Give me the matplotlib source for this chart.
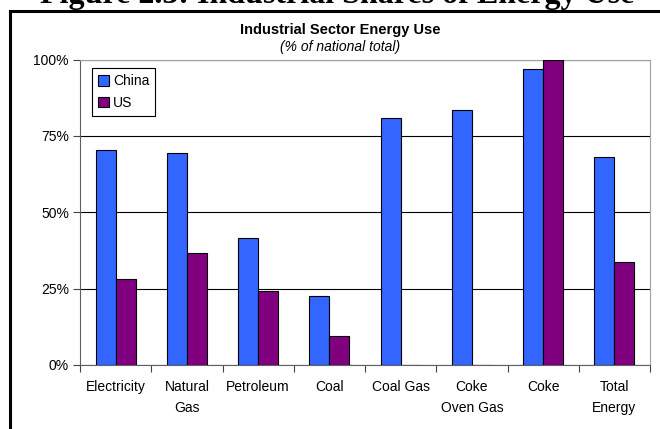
import matplotlib
matplotlib.use("Agg")
import matplotlib.pyplot as plt
import numpy as np
from matplotlib.lines import Line2D
from matplotlib.ticker import FixedLocator, PercentFormatter

plt.rcParams["font.family"] = ["Liberation Sans", "DejaVu Sans"]

# data (% of national total)
categories = ["Electricity", "Natural\nGas", "Petroleum", "Coal", "Coal Gas",
              "Coke\nOven Gas", "Coke", "Total\nEnergy"]
china = [70.3, 69.4, 41.5, 22.7, 80.7, 83.5, 96.9, 68.1]
us = [28.2, 36.7, 24.2, 9.4, 0, 0, 100.0, 33.8]
yticks = [0, 25, 50, 75, 100]

W, H = 660, 429
fig = plt.figure(figsize=(W / 100, H / 100), dpi=100)
ax = fig.add_axes([80 / W, 1 - 365 / H, 570 / W, 305.5 / H])

x = np.arange(len(categories))
bw = 0.28
ax.bar(x - bw / 2, china, bw, color="#3366FF", edgecolor="black", linewidth=0.8,
       label="China", zorder=3)
ax.bar(x + bw / 2, us, bw, color="#800080", edgecolor="black", linewidth=0.8,
       label="US", zorder=3)

ax.set_xlim(-0.5, len(categories) - 0.5)
ax.set_ylim(0, 100)
ax.set_yticks(yticks)
ax.yaxis.set_major_formatter(PercentFormatter(decimals=0))
ax.grid(axis="y", color="black", linewidth=0.8, zorder=0)

ax.set_xticks(x)
ax.set_xticklabels(categories, fontsize=10, linespacing=1.6)
ax.xaxis.set_minor_locator(FixedLocator(np.arange(len(categories) + 1) - 0.5))
ax.tick_params(axis="x", which="major", length=0, pad=11)
ax.tick_params(axis="x", which="minor", length=5, width=0.8, color="#444444")
ax.tick_params(axis="y", length=5, width=0.8, color="#444444", labelsize=10, pad=3)

for side in ["top", "right"]:
    ax.spines[side].set_color("#A0A0A0")
for side in ["left", "bottom"]:
    ax.spines[side].set_color("#606060")

leg = ax.legend(loc="upper left", bbox_to_anchor=(0.021, 0.972), borderaxespad=0,
                fancybox=False, edgecolor="black", framealpha=1, fontsize=10,
                handlelength=0.75, handleheight=0.75, handletextpad=0.3,
                labelspacing=0.55, borderpad=0.45)
leg.get_frame().set_linewidth(0.8)
for h in leg.legend_handles:
    h.set_linewidth(0.8)

# chart titles
fig.text(340 / W, 1 - 30 / H, "Industrial Sector Energy Use", ha="center", va="center",
         fontsize=10.5, fontweight="bold")
fig.text(340 / W, 1 - 47 / H, "(% of national total)", ha="center", va="center",
         fontsize=10, style="italic")

# figure caption, cut off by the top edge as in the source page
fig.text(40 / W, 1 - 3 / H, "Figure 2.3: Industrial Shares of Energy Use", ha="left",
         va="baseline", fontsize=23, fontweight="bold", family="Liberation Serif")

# outer frame
fig.add_artist(Line2D([10 / W, 1.0], [1 - 11 / H, 1 - 11 / H], color="black",
                      linewidth=2.2, transform=fig.transFigure))
fig.add_artist(Line2D([10 / W, 10 / W], [1 - 11 / H, 0.0], color="black",
                      linewidth=2.2, transform=fig.transFigure))

fig.savefig("out.png", dpi=100)
